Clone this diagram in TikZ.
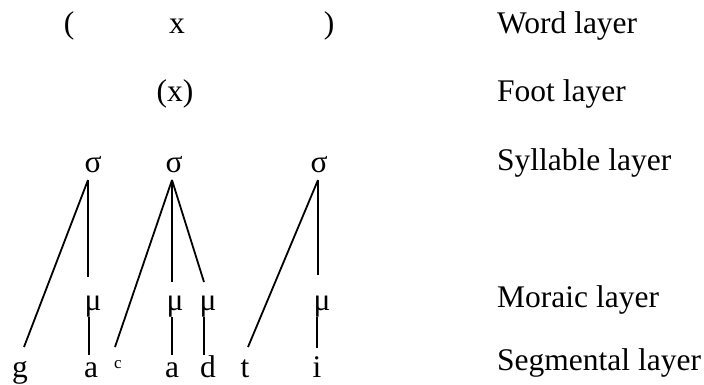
\documentclass[tikz,border=0pt]{standalone}
\usepackage{fontspec}
\setmainfont{Liberation Serif}
\begin{document}
\begin{tikzpicture}[x=1pt,y=-1pt,
  sym/.style={inner sep=0pt,anchor=base,font=\fontsize{31.5}{38}\selectfont},
  lbl/.style={inner sep=0pt,anchor=base west,font=\fontsize{31.5}{38}\selectfont},
  sup/.style={inner sep=0pt,anchor=base,font=\fontsize{17}{20}\selectfont},
  link/.style={line width=1.8pt}]
\useasboundingbox (0,0) rectangle (704,385);
% labels
\node[lbl] (Lw) at (497,34) {Word layer};
\node[lbl] (Lf) at (497,102) {Foot layer};
\node[lbl] (Ls) at (497,170) {Syllable layer};
\node[lbl] (Lm) at (497,307) {Moraic layer};
\node[lbl] (Lg) at (497,370) {Segmental layer};
% word layer
\node[sym] (wl) at (69,34) {(};
\node[sym] (wx) at (177,34) {x};
\node[sym] (wr) at (329,34) {)};
% foot
\node[sym] (ft) at (175,102) {(x)};
% syllables
\node[sym] (s1) at (93,172) {σ};
\node[sym] (s2) at (174,172) {σ};
\node[sym] (s3) at (319,172) {σ};
% morae
\node[sym] (m1) at (93,310) {μ};
\node[sym] (m2) at (175,310) {μ};
\node[sym] (m3) at (208,310) {μ};
\node[sym] (m4) at (322,310) {μ};
% segments
\node[sym] (g) at (20,377) {g};
\node[sym] (a1) at (91,377) {a};
\node[sup] (c) at (118,368) {c};
\node[sym] (a2) at (172,377) {a};
\node[sym] (d) at (208,377) {d};
\node[sym] (t) at (245,377) {t};
\node[sym] (i) at (317,377) {i};
% links
\draw[link] ([shift={(-5,8)}]s1.base) -- ([shift={(4,-30)}]g.base);
\draw[link] ([shift={(-5,8)}]s1.base) -- ([shift={(-5,-33)}]m1.base);
\draw[link] ([shift={(-4,7)}]m1.base) -- ([shift={(-2,-22)}]a1.base);
\draw[link] ([shift={(-2,8)}]s2.base) -- ([shift={(-3,-21)}]c.base);
\draw[link] ([shift={(-2,8)}]s2.base) -- ([shift={(-3,-28)}]m2.base);
\draw[link] ([shift={(-2,8)}]s2.base) -- ([shift={(-4,-28)}]m3.base);
\draw[link] ([shift={(-3,7)}]m2.base) -- ([shift={(0,-22)}]a2.base);
\draw[link] ([shift={(-4,7)}]m3.base) -- ([shift={(-4,-22)}]d.base);
\draw[link] ([shift={(-1,8)}]s3.base) -- ([shift={(3,-30)}]t.base);
\draw[link] ([shift={(-1,8)}]s3.base) -- ([shift={(-4,-35)}]m4.base);
\draw[link] ([shift={(-5,7)}]m4.base) -- ([shift={(0,-29)}]i.base);
\end{tikzpicture}
\end{document}
